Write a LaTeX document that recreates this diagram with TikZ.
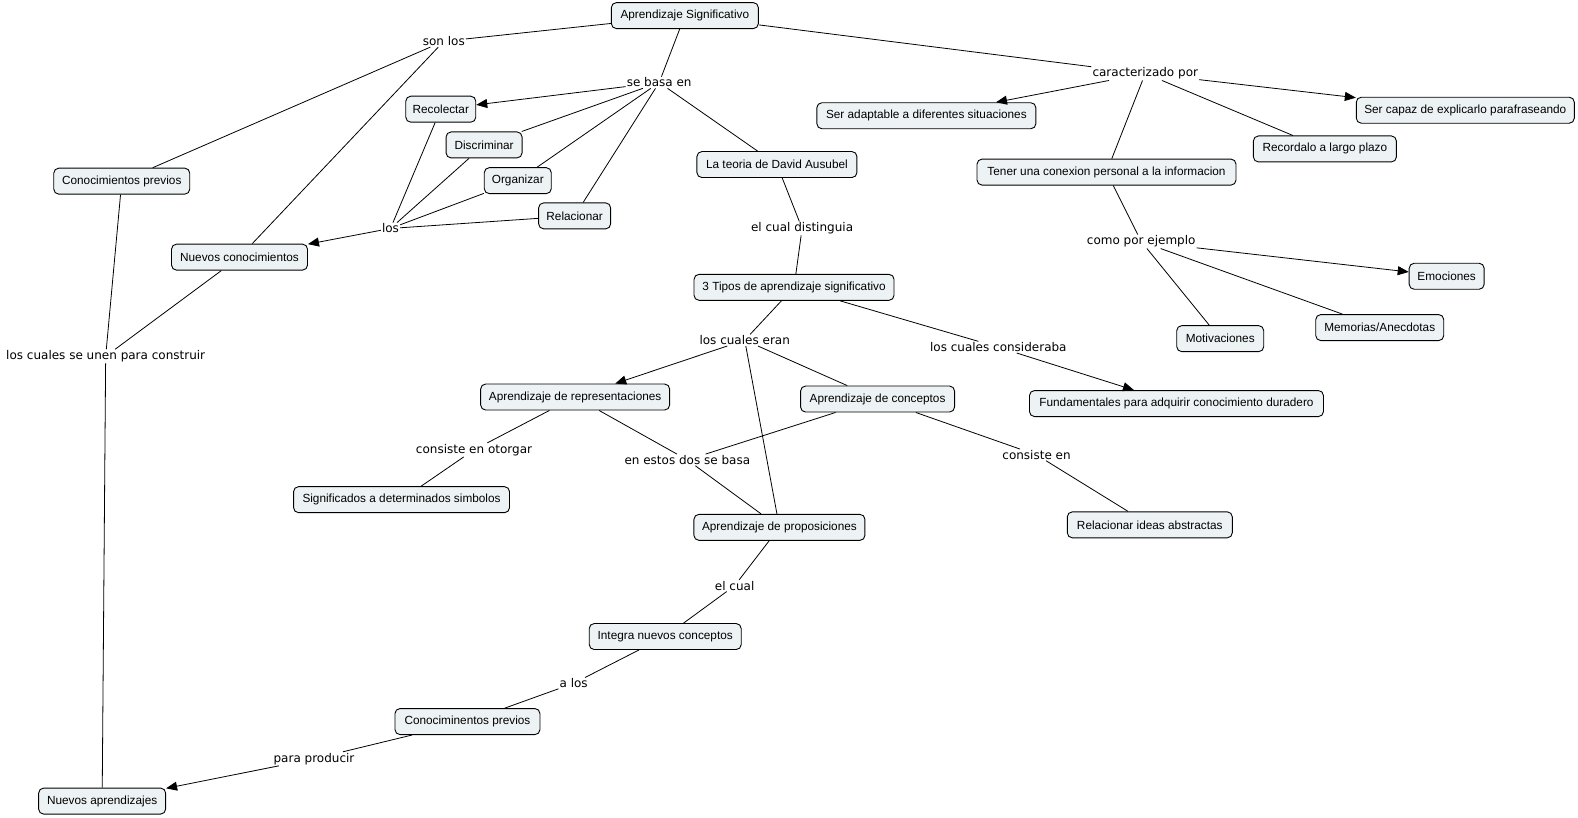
\documentclass[tikz,border=0pt]{standalone}
\usepackage{fontspec}
\setmainfont{Liberation Sans}
\newfontfamily\lfont{DejaVu Sans}
\usetikzlibrary{arrows.meta}
\definecolor{cfill}{RGB}{237,243,245}
\begin{document}
\begin{tikzpicture}[x=1.0064pt,y=-1.0064pt,
 concept/.style={draw=black,line width=0.9pt,rounded corners=5pt,fill=cfill,font=\fontsize{11.8}{13}\selectfont,inner xsep=2pt,inner ysep=0pt,minimum height=26pt},
 phrase/.style={font=\lfont\fontsize{12}{14}\selectfont,inner sep=1pt},
 link/.style={line width=0.8pt},
 arr/.style={link,-{Triangle[length=11pt,width=9pt]}}]
\useasboundingbox[fill=white] (0,0) rectangle (1568,812);
% concepts
\node[concept,minimum width=147pt] (as) at (680.5,15.5) {Aprendizaje Significativo};
\node[concept,minimum width=136pt] (cp) at (121,180) {Conocimientos previos};
\node[concept,minimum width=136pt] (nc) at (238,255.5) {Nuevos conocimientos};
\node[concept,minimum width=70pt] (rec) at (438,108.5) {Recolectar};
\node[concept,minimum width=76pt] (dis) at (481,144) {Discriminar};
\node[concept,minimum width=67pt] (org) at (514.5,179.5) {Organizar};
\node[concept,minimum width=72pt] (rel) at (571,214.5) {Relacionar};
\node[concept,minimum width=160pt] (teo) at (772,163.5) {La teoria de David Ausubel};
\node[concept,minimum width=219pt] (ada) at (920.5,115) {Ser adaptable a diferentes situaciones};
\node[concept,minimum width=218pt] (cap) at (1456,109.5) {Ser capaz de explicarlo parafraseando};
\node[concept,minimum width=143pt] (rlp) at (1316.5,148) {Recordalo a largo plazo};
\node[concept,minimum width=259pt] (ten) at (1099.5,171) {Tener una conexion personal a la informacion};
\node[concept,minimum width=75pt] (emo) at (1437.5,274.5) {Emociones};
\node[concept,minimum width=87pt] (mot) at (1212.5,336.5) {Motivaciones};
\node[concept,minimum width=128pt] (mem) at (1371,325.5) {Memorias/Anecdotas};
\node[concept,minimum width=200pt] (tip) at (789,285.5) {3 Tipos de aprendizaje significativo};
\node[concept,minimum width=189pt] (rep) at (571.5,394.5) {Aprendizaje de representaciones};
\node[concept,minimum width=154pt] (con) at (872,396.5) {Aprendizaje de conceptos};
\node[concept,minimum width=294pt] (fun) at (1169,401) {Fundamentales para adquirir conocimiento duradero};
\node[concept,minimum width=216pt] (sig) at (399,496.5) {Significados a determinados simbolos};
\node[concept,minimum width=171pt] (pro) at (774.5,524) {Aprendizaje de proposiciones};
\node[concept,minimum width=165pt] (ria) at (1142.5,521.5) {Relacionar ideas abstractas};
\node[concept,minimum width=152pt] (int) at (661,632.5) {Integra nuevos conceptos};
\node[concept,minimum width=145pt] (cp2) at (464.5,717) {Conociminentos previos};
\node[concept,minimum width=127pt] (na) at (101.5,796) {Nuevos aprendizajes};
% linking phrases
\node[phrase] (p1) at (441,41) {son los};
\node[phrase] (p2) at (655,82) {se basa en};
\node[phrase] (p3) at (1138,73) {caracterizado por};
\node[phrase] (p4) at (388,227) {los};
\node[phrase] (p5) at (797,227) {el cual distinguia};
\node[phrase] (p6) at (1134,240) {como por ejemplo};
\node[phrase] (p7) at (105,354) {los cuales se unen para construir};
\node[phrase] (p8) at (740,338) {los cuales eran};
\node[phrase] (p9) at (992,345) {los cuales consideraba};
\node[phrase] (p10) at (471,447) {consiste en otorgar};
\node[phrase] (p11) at (683,457) {en estos dos se basa};
\node[phrase] (p12) at (1030,452) {consiste en};
\node[phrase] (p13) at (730,582) {el cual};
\node[phrase] (p14) at (570,679) {a los};
\node[phrase] (p15) at (312,754) {para producir};
% connectors
\draw[link] (as) -- (p1);
\draw[link] (p1) -- (cp);
\draw[link] (p1) -- (nc);
\draw[link] (as) -- (p2);
\draw[arr] (p2) -- (rec);
\draw[link] (p2) -- (dis);
\draw[link] (p2) -- (org);
\draw[link] (p2) -- (rel);
\draw[link] (p2) -- (teo);
\draw[link] (as) -- (p3);
\draw[arr] (p3) -- (ada);
\draw[arr] (p3) -- (cap);
\draw[link] (p3) -- (rlp);
\draw[link] (p3) -- (ten);
\draw[link] (rec) -- (p4);
\draw[link] (dis) -- (p4);
\draw[link] (org) -- (p4);
\draw[link] (rel) -- (p4);
\draw[arr] (p4) -- (nc);
\draw[link] (cp) -- (p7);
\draw[link] (nc) -- (p7);
\draw[link] (p7) -- (na);
\draw[link] (teo) -- (p5);
\draw[link] (p5) -- (tip);
\draw[link] (ten) -- (p6);
\draw[arr] (p6) -- (emo);
\draw[link] (p6) -- (mot);
\draw[link] (p6) -- (mem);
\draw[link] (tip) -- (p8);
\draw[arr] (p8) -- (rep);
\draw[link] (p8) -- (con);
\draw[link] (p8) -- (pro);
\draw[link] (tip) -- (p9);
\draw[arr] (p9) -- (fun);
\draw[link] (rep) -- (p10);
\draw[link] (p10) -- (sig);
\draw[link] (rep) -- (p11);
\draw[link] (con) -- (p11);
\draw[link] (p11) -- (pro);
\draw[link] (con) -- (p12);
\draw[link] (p12) -- (ria);
\draw[link] (pro) -- (p13);
\draw[link] (p13) -- (int);
\draw[link] (int) -- (p14);
\draw[link] (p14) -- (cp2);
\draw[link] (cp2) -- (p15);
\draw[arr] (p15) -- (na);
\end{tikzpicture}
\end{document}
